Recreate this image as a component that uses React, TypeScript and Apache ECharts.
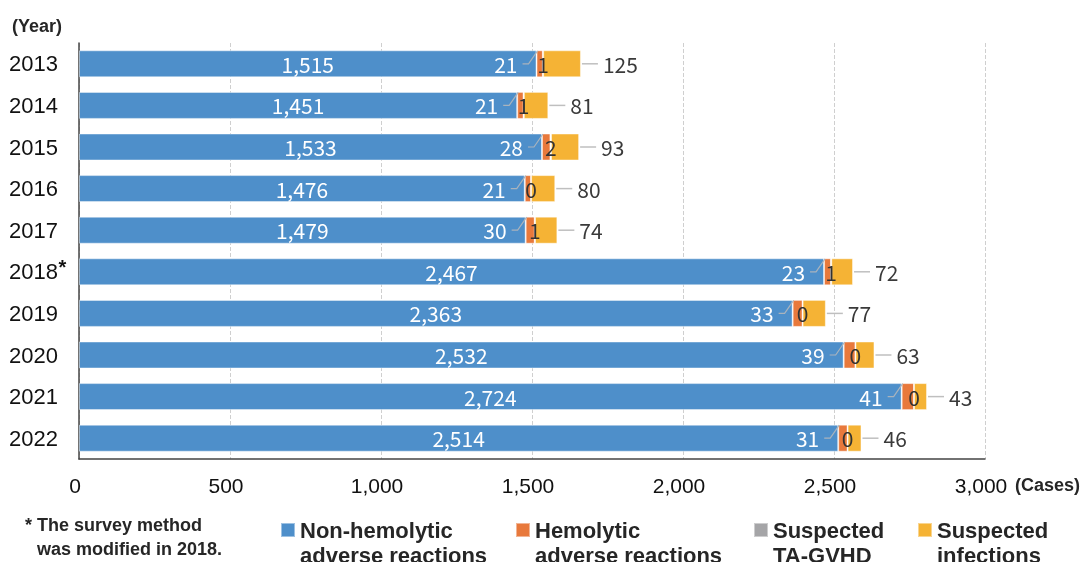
import React, { useEffect, useRef } from "react";
import * as echarts from "echarts";

const years = ["2013", "2014", "2015", "2016", "2017", "2018", "2019", "2020", "2021", "2022"];
const nonHemolytic = [1515, 1451, 1533, 1476, 1479, 2467, 2363, 2532, 2724, 2514];
const hemolytic = [21, 21, 28, 21, 30, 23, 33, 39, 41, 31];
const taGvhd = [1, 1, 2, 0, 1, 1, 0, 0, 0, 0];
const infections = [125, 81, 93, 80, 74, 72, 77, 63, 43, 46];
const seriesNames = [
  "Non-hemolytic\nadverse reactions",
  "Hemolytic\nadverse reactions",
  "Suspected\nTA-GVHD",
  "Suspected\ninfections",
];
const colors = ["#4e8fca", "#e8793c", "#a5a5a7", "#f5b335"];
const xTicks = { min: 0, max: 3000, interval: 500 };

const fmt = (n: number) => String(n).replace(/\B(?=(\d{3})+(?!\d))/g, ",");
const numFont = "'Noto Sans CJK JP', 'Noto Sans', sans-serif";
const latin = "'Liberation Sans', Arial, sans-serif";

export default function App() {
  const ref = useRef<HTMLDivElement>(null);
  useEffect(() => {
    document.body.style.margin = "0";
    const chart = echarts.init(ref.current!, null, { renderer: "svg" });
    const totals = years.map((_, i) => nonHemolytic[i] + hemolytic[i] + taGvhd[i] + infections[i]);
    const barW = 27;
    const barStyle = (k: number) => ({
      color: colors[k],
      borderColor: "rgba(255,255,255,0.45)",
      borderWidth: 1,
    });
    const legendLefts = [275, 510, 748, 912];
    const option: any = {
      animation: false,
      grid: { left: 79, right: 104, top: 43, bottom: 103, containLabel: false },
      xAxis: {
        type: "value",
        min: xTicks.min,
        max: xTicks.max,
        interval: xTicks.interval,
        axisLine: { show: true, lineStyle: { color: "#444", width: 1.5 } },
        axisTick: { show: false },
        axisLabel: {
          fontSize: 21,
          color: "#111",
          fontFamily: latin,
          margin: 16,
          padding: [0, 8, 0, 0],
          formatter: (v: number) => fmt(v),
        },
        splitLine: { show: true, lineStyle: { color: "#cfcfcf", type: "dashed", width: 1 } },
      },
      yAxis: {
        type: "category",
        data: years,
        inverse: true,
        axisLine: { show: true, lineStyle: { color: "#444", width: 1.5 } },
        axisTick: { show: false },
        axisLabel: {
          fontSize: 22,
          color: "#111",
          fontFamily: latin,
          margin: 12,
          formatter: (v: string) => (v === "2018" ? `{n|${v}}{s|*}` : `{n|${v}}{p| }`),
          rich: {
            n: { fontSize: 22, fontFamily: latin, color: "#111", lineHeight: 30 },
            s: {
              fontSize: 20,
              fontWeight: "bold",
              fontFamily: latin,
              color: "#111",
              verticalAlign: "top",
              lineHeight: 20,
              width: 9,
              align: "left",
            },
            p: { fontSize: 20, fontFamily: latin, width: 9, lineHeight: 20 },
          },
        },
      },
      legend: seriesNames.map((name, k) => ({
        data: [name],
        left: legendLefts[k],
        top: 513,
        icon: "path://M0,0H14V14H0Z M0,39.95H0.05V40H0Z",
        itemWidth: 14,
        itemHeight: 40,
        itemGap: 0,
        selectedMode: false,
        textStyle: { fontSize: 22, fontWeight: "bold", color: "#262626", lineHeight: 25, fontFamily: latin },
      })),
      graphic: [
        { type: "text", left: 12, top: 17, style: { text: "(Year)", font: `bold 18px ${latin}`, fill: "#262626" } },
        { type: "text", left: 1015, top: 476, style: { text: "(Cases)", font: `bold 18px ${latin}`, fill: "#262626" } },
        { type: "text", left: 25, top: 516, style: { text: "* The survey method", font: `bold 18px ${latin}`, fill: "#262626" } },
        { type: "text", left: 37, top: 540, style: { text: "was modified in 2018.", font: `bold 18px ${latin}`, fill: "#262626" } },
      ],
      series: [
        {
          name: seriesNames[0],
          type: "bar",
          stack: "total",
          barWidth: barW,
          data: nonHemolytic,
          itemStyle: barStyle(0),
          label: {
            show: true,
            position: "inside",
            color: "#fff",
            fontSize: 21,
            fontFamily: numFont,
            formatter: (p: any) => fmt(p.value),
          },
        },
        { name: seriesNames[1], type: "bar", stack: "total", barWidth: barW, data: hemolytic, itemStyle: barStyle(1) },
        { name: seriesNames[2], type: "bar", stack: "total", barWidth: barW, data: taGvhd, itemStyle: barStyle(2) },
        { name: seriesNames[3], type: "bar", stack: "total", barWidth: barW, data: infections, itemStyle: barStyle(3) },
        {
          type: "custom",
          silent: true,
          z: 10,
          data: years.map((_, i) => [totals[i], i]),
          encode: { x: 0, y: 1 },
          renderItem: (params: any, api: any) => {
            const i = params.dataIndex;
            const s = api.coord([nonHemolytic[i], i]);
            const g = api.coord([nonHemolytic[i] + hemolytic[i] + taGvhd[i] / 2, i]);
            const e = api.coord([totals[i], i]);
            const y = s[1];
            const top = y - barW / 2;
            const x0 = s[0];
            return {
              type: "group",
              children: [
                {
                  type: "polyline",
                  shape: { points: [[x0 - 14, y], [x0 - 8, y], [x0 + 1, top + 0.5]] },
                  style: { stroke: "#a9b3bd", lineWidth: 1.2, fill: null },
                },
                {
                  type: "text",
                  x: x0 - 19,
                  y,
                  style: {
                    text: String(hemolytic[i]),
                    fill: "#fff",
                    align: "right",
                    verticalAlign: "middle",
                    fontSize: 21,
                    fontFamily: numFont,
                  },
                },
                {
                  type: "text",
                  x: g[0],
                  y,
                  style: {
                    text: String(taGvhd[i]),
                    fill: "#333",
                    align: "center",
                    verticalAlign: "middle",
                    fontSize: 21,
                    fontFamily: numFont,
                  },
                },
                {
                  type: "line",
                  shape: { x1: e[0] + 1, y1: y, x2: e[0] + 17, y2: y },
                  style: { stroke: "#bfbfbf", lineWidth: 1.5 },
                },
                {
                  type: "text",
                  x: e[0] + 22,
                  y,
                  style: {
                    text: String(infections[i]),
                    fill: "#3a3a3a",
                    align: "left",
                    verticalAlign: "middle",
                    fontSize: 21,
                    fontFamily: numFont,
                  },
                },
              ],
            };
          },
        },
      ],
    };
    chart.setOption(option);
    return () => chart.dispose();
  }, []);
  return <div ref={ref} style={{ position: "fixed", left: 0, top: 0, width: 1089, height: 562 }} />;
}
